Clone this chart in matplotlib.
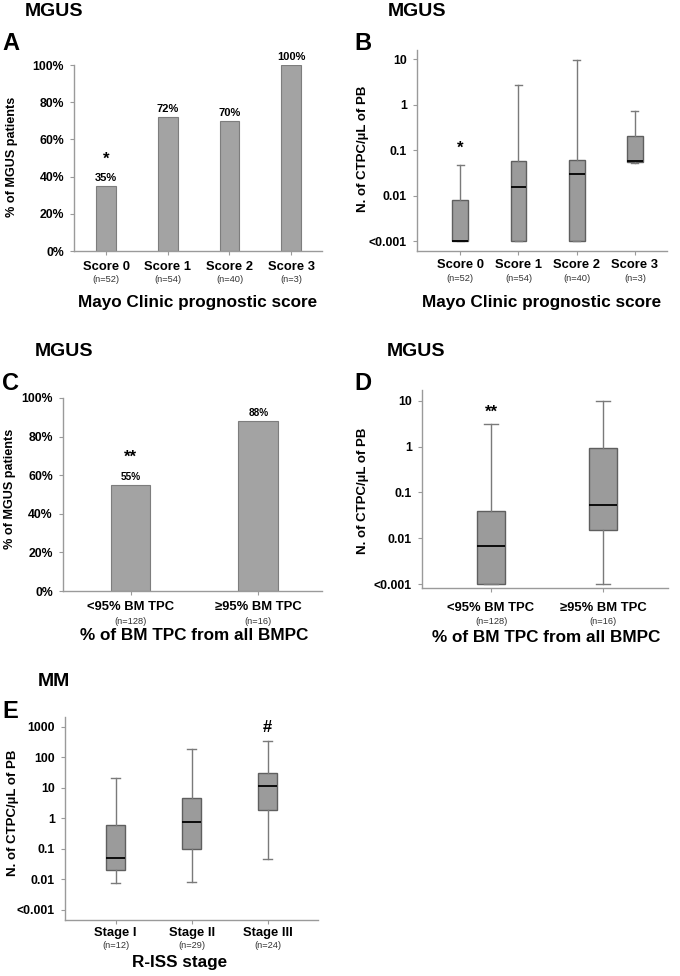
import matplotlib
matplotlib.use("Agg")
import matplotlib.pyplot as plt
import numpy as np

plt.rcParams['font.family'] = ['Liberation Sans', 'DejaVu Sans']

# ---------------- data ----------------
mayo_categories = ['Score 0', 'Score 1', 'Score 2', 'Score 3']
mayo_n = ['(n=52)', '(n=54)', '(n=40)', '(n=3)']
mayo_pct = [35, 72, 70, 100]
mayo_pct_sig = ['*', '', '', '']

# boxplot stats: lower whisker, Q1, median, Q3, upper whisker
mayo_whislo = [0.001, 0.001, 0.001, 0.053]
mayo_q1 = [0.001, 0.001, 0.001, 0.055]
mayo_med = [0.001, 0.0158, 0.030, 0.058]
mayo_q3 = [0.0082, 0.059, 0.062, 0.204]
mayo_whishi = [0.047, 2.7, 9.7, 0.71]
mayo_box_sig = ['*', '', '', '']

tpc_categories = ['<95% BM TPC', '≥95% BM TPC']
tpc_n = ['(n=128)', '(n=16)']
tpc_pct = [55, 88]
tpc_pct_sig = ['**', '']

tpc_whislo = [0.001, 0.001]
tpc_q1 = [0.001, 0.0148]
tpc_med = [0.0067, 0.052]
tpc_q3 = [0.039, 0.91]
tpc_whishi = [3.1, 10.0]
tpc_box_sig = ['**', '']

riss_categories = ['Stage I', 'Stage II', 'Stage III']
riss_n = ['(n=12)', '(n=29)', '(n=24)']
riss_whislo = [0.0076, 0.0082, 0.046]
riss_q1 = [0.021, 0.10, 1.83]
riss_med = [0.050, 0.74, 11.6]
riss_q3 = [0.59, 4.6, 30.0]
riss_whishi = [21.4, 187, 331]
riss_box_sig = ['', '', '#']

log_ticks_small = [0.001, 0.01, 0.1, 1, 10]
log_labels_small = ['<0.001', '0.01', '0.1', '1', '10']
log_ticks_big = [0.001, 0.01, 0.1, 1, 10, 100, 1000]
log_labels_big = ['<0.001', '0.01', '0.1', '1', '10', '100', '1000']
pct_ticks = [0, 0.2, 0.4, 0.6, 0.8, 1.0]
pct_labels = ['0%', '20%', '40%', '60%', '80%', '100%']

# ---------------- style ----------------
W, H = 680, 976
fig = plt.figure(figsize=(W / 100, H / 100), dpi=100)

BAR_FACE = '#a3a3a3'
BAR_EDGE = '#7d7d7d'
BOX_FACE = '#9b9b9b'
BOX_EDGE = '#5f5f5f'
WHISK = '#7a7a7a'
SPINE = '#9a9a9a'

TICK_FS = 8.8
YLAB_FS = 9.1
YLAB2_FS = 9.5
CAT_FS = 9.4
N_FS = 6.7
XLAB_FS = 12.3
TITLE_FS = 14
LETTER_FS = 17


def axes_px(left, top, right, bottom):
    return fig.add_axes([left / W, 1 - bottom / H, (right - left) / W, (bottom - top) / H])


def ftext(x, y, s, **kw):
    fig.text(x / W, 1 - y / H, s, **kw)


def style_axes(ax):
    for s in ['top', 'right']:
        ax.spines[s].set_visible(False)
    for s in ['left', 'bottom']:
        ax.spines[s].set_color(SPINE)
        ax.spines[s].set_linewidth(1.0)
    ax.tick_params(axis='both', colors=SPINE, length=2.9, width=0.8, labelcolor='black')
    ax.tick_params(axis='y', labelsize=TICK_FS, pad=4.3)
    for lab in ax.get_yticklabels():
        lab.set_fontweight('bold')


def cat_labels(ax, cats, ns, off_cat, off_n, fs=CAT_FS):
    ax.set_xticks(range(len(cats)))
    ax.set_xticklabels([''] * len(cats))
    for i, (c, n) in enumerate(zip(cats, ns)):
        ax.annotate(c, xy=(i, 0), xycoords=('data', 'axes fraction'),
                    xytext=(0, -off_cat), textcoords='offset pixels',
                    ha='center', va='center', fontsize=fs, fontweight='bold')
        ax.annotate(n, xy=(i, 0), xycoords=('data', 'axes fraction'),
                    xytext=(0, -off_n), textcoords='offset pixels',
                    ha='center', va='center', fontsize=N_FS, color='#333333')


def bar_panel(ax, cats, pct, sig, width, label_fs, sig_off, xlim):
    vals = np.array(pct) / 100.0
    x = np.arange(len(cats))
    ax.bar(x, vals, width=width, color=BAR_FACE, edgecolor=BAR_EDGE, linewidth=0.8, zorder=2)
    for i, v in enumerate(vals):
        ax.annotate(f'{pct[i]}%', xy=(i, v), xytext=(0, 8), textcoords='offset pixels',
                    ha='center', va='center', fontsize=label_fs, fontweight='bold')
        if sig[i]:
            ax.annotate(sig[i], xy=(i, v), xytext=(0, sig_off), textcoords='offset pixels',
                        ha='center', va='center', fontsize=12, fontweight='bold')
    ax.set_ylim(0, 1.0)
    ax.set_xlim(*xlim)
    ax.set_yticks(pct_ticks)
    ax.set_yticklabels(pct_labels)
    style_axes(ax)


def box_panel(ax, whislo, q1, med, q3, whishi, sig, width, ticks, labels, ylim, xlim, sig_off):
    stats = []
    for a, b, c, d, e in zip(whislo, q1, med, q3, whishi):
        stats.append(dict(whislo=a, q1=b, med=c, q3=d, whishi=e, fliers=[]))
    pos = list(range(len(stats)))
    ax.bxp(stats, positions=pos, widths=width, capwidths=0.12, patch_artist=True,
           showfliers=False,
           boxprops=dict(facecolor=BOX_FACE, edgecolor=BOX_EDGE, linewidth=1.0),
           medianprops=dict(color='black', linewidth=1.3),
           whiskerprops=dict(color=WHISK, linewidth=1.0),
           capprops=dict(color=WHISK, linewidth=1.0))
    for i, s in enumerate(sig):
        if s:
            ax.annotate(s, xy=(i, whishi[i]), xytext=(0, sig_off), textcoords='offset pixels',
                        ha='center', va='center', fontsize=12, fontweight='bold')
    ax.set_yscale('log')
    ax.set_ylim(*ylim)
    ax.set_xlim(*xlim)
    ax.set_yticks(ticks)
    ax.set_yticklabels(labels)
    ax.yaxis.set_minor_locator(matplotlib.ticker.NullLocator())
    style_axes(ax)


# ---------------- Panel A ----------------
axA = axes_px(74, 65, 322, 251)
bar_panel(axA, mayo_categories, mayo_pct, mayo_pct_sig, 0.32, 8.0, 27, (-0.52, 3.5))
cat_labels(axA, mayo_categories, mayo_n, 16, 28)
ftext(12, 157, '% of MGUS patients', rotation=90, ha='center', va='center', fontsize=YLAB_FS, fontweight='bold')
ftext(198, 303, 'Mayo Clinic prognostic score', ha='center', va='center', fontsize=XLAB_FS, fontweight='bold')
ftext(25, 11, 'MGUS', ha='left', va='center', fontsize=TITLE_FS, fontweight='bold')
ftext(2, 43, 'A', ha='left', va='center', fontsize=LETTER_FS, fontweight='bold')

# ---------------- Panel B ----------------
axB = axes_px(417, 50, 667, 250.7)
box_panel(axB, mayo_whislo, mayo_q1, mayo_med, mayo_q3, mayo_whishi, mayo_box_sig,
          0.27, log_ticks_small, log_labels_small, (10 ** -3.21, 10 ** 1.2), (-0.74, 3.55), 17)
cat_labels(axB, mayo_categories, mayo_n, 14.5, 28)
ftext(363, 149, 'N. of CTPC/µL of PB', rotation=90, ha='center', va='center', fontsize=YLAB2_FS, fontweight='bold')
ftext(542, 303, 'Mayo Clinic prognostic score', ha='center', va='center', fontsize=XLAB_FS, fontweight='bold')
ftext(388, 11, 'MGUS', ha='left', va='center', fontsize=TITLE_FS, fontweight='bold')
ftext(354, 43, 'B', ha='left', va='center', fontsize=LETTER_FS, fontweight='bold')

# ---------------- Panel C ----------------
axC = axes_px(63, 398, 322, 591)
bar_panel(axC, tpc_categories, tpc_pct, tpc_pct_sig, 0.31, 7.2, 28, (-0.53, 1.5))
cat_labels(axC, tpc_categories, tpc_n, 16, 30)
ftext(10, 489, '% of MGUS patients', rotation=90, ha='center', va='center', fontsize=YLAB_FS, fontweight='bold')
ftext(194, 635, '% of BM TPC from all BMPC', ha='center', va='center', fontsize=XLAB_FS, fontweight='bold')
ftext(35, 352, 'MGUS', ha='left', va='center', fontsize=TITLE_FS, fontweight='bold')
ftext(2, 383, 'C', ha='left', va='center', fontsize=LETTER_FS, fontweight='bold')

# ---------------- Panel D ----------------
axD = axes_px(422, 390, 668, 588)
box_panel(axD, tpc_whislo, tpc_q1, tpc_med, tpc_q3, tpc_whishi, tpc_box_sig,
          0.25, log_ticks_small, log_labels_small, (10 ** -3.087, 10 ** 1.234), (-0.616, 1.58), 12)
cat_labels(axD, tpc_categories, tpc_n, 20, 34)
ftext(363, 491, 'N. of CTPC/µL of PB', rotation=90, ha='center', va='center', fontsize=YLAB2_FS, fontweight='bold')
ftext(546, 637, '% of BM TPC from all BMPC', ha='center', va='center', fontsize=XLAB_FS, fontweight='bold')
ftext(387, 352, 'MGUS', ha='left', va='center', fontsize=TITLE_FS, fontweight='bold')
ftext(354, 383, 'D', ha='left', va='center', fontsize=LETTER_FS, fontweight='bold')

# ---------------- Panel E ----------------
axE = axes_px(65, 717, 318, 920)
box_panel(axE, riss_whislo, riss_q1, riss_med, riss_q3, riss_whishi, riss_box_sig,
          0.254, log_ticks_big, log_labels_big, (10 ** -3.33, 10 ** 3.32), (-0.667, 2.66), 14)
cat_labels(axE, riss_categories, riss_n, 13, 26)
ftext(13, 813, 'N. of CTPC/µL of PB', rotation=90, ha='center', va='center', fontsize=YLAB2_FS, fontweight='bold')
ftext(180, 963, 'R-ISS stage', ha='center', va='center', fontsize=XLAB_FS, fontweight='bold')
ftext(38, 681, 'MM', ha='left', va='center', fontsize=TITLE_FS, fontweight='bold')
ftext(2, 712, 'E', ha='left', va='center', fontsize=LETTER_FS, fontweight='bold')

fig.savefig('out.png', dpi=100, facecolor='white')
